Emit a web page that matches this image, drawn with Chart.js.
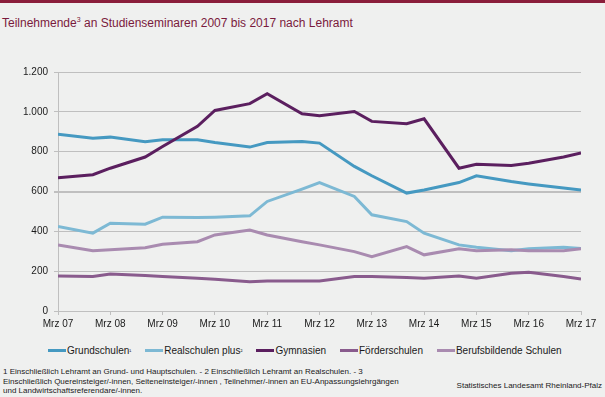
<!DOCTYPE html>
<html lang="de">
<head>
<meta charset="utf-8">
<script src="https://cdn.jsdelivr.net/npm/chart.js@4.4.1/dist/chart.umd.min.js"></script>
<style>
    html, body { margin: 0; padding: 0; }
    body {
        width: 605px; height: 397px; overflow: hidden; position: relative;
        background: #eff0ef;
        font-family: Arial, "Liberation Sans", sans-serif;
        color: #1a1a1a;
    }
    .topbar { position: absolute; left: 0; top: 0; width: 605px; height: 3px; background: #8a1e3b; }
    .title { position: absolute; left: 2px; top: 16px; font-size: 12px; color: #7a1a3c; white-space: nowrap; }
    .title sup { font-size: 7px; vertical-align: 5px; }
    #chartBox { position: absolute; left: 0; top: 40px; width: 605px; height: 300px; }
    .legend { position: absolute; left: 48px; top: 345px; display: flex; font-size: 10px; white-space: nowrap; }
    .legend .item { display: flex; align-items: center; margin-right: 14px; }
    .legend .swatch { display: inline-block; width: 18px; height: 3px; margin-right: 1px; }
    .legend sup { font-size: 6px; vertical-align: 4px; }
    .notes { position: absolute; left: 3px; top: 367px; font-size: 8px; line-height: 9.5px; white-space: nowrap; }
    .source { position: absolute; right: 3px; top: 381px; font-size: 8px; white-space: nowrap; }
</style>
</head>
<body>
<div class="topbar"></div>
<div class="title">Teilnehmende<sup>3</sup> an Studienseminaren 2007 bis 2017 nach Lehramt</div>
<div id="chartBox"><canvas id="teilnehmerChart" width="605" height="300"></canvas></div>
<div class="legend" id="legend"></div>
<div class="notes">
    1 Einschließlich Lehramt an Grund- und Hauptschulen. - 2 Einschließlich Lehramt an Realschulen. - 3<br>
    Einschließlich Quereinsteiger/-innen, Seiteneinsteiger/-innen , Teilnehmer/-innen an EU-Anpassungslehrgängen<br>
    und Landwirtschaftsreferendare/-innen.
</div>
<div class="source">Statistisches Landesamt Rheinland-Pfalz</div>

<script>
// Stichtage (März und November)
const stichtage = ['Mrz 07', 'Nov 07', 'Mrz 08', 'Nov 08', 'Mrz 09', 'Nov 09', 'Mrz 10', 'Nov 10',
    'Mrz 11', 'Nov 11', 'Mrz 12', 'Nov 12', 'Mrz 13', 'Nov 13', 'Mrz 14', 'Nov 14',
    'Mrz 15', 'Nov 15', 'Mrz 16', 'Nov 16', 'Mrz 17'];

const tickLabels = ['Mrz 07', 'Mrz 08', 'Mrz 09', 'Mrz 10', 'Mrz 11', 'Mrz 12',
    'Mrz 13', 'Mrz 14', 'Mrz 15', 'Mrz 16', 'Mrz 17'];

const grundschulen = [888, 868, 873, 850, 860, 860, 846, 823, 846, 851, 843,
    726, 679, 592, 608, 645, 679, 650, 638, 617, 608];
const realschulenPlus = [424, 391, 441, 436, 471, 469, 471, 478, 550, 612, 645,
    575, 483, 449, 391, 332, 320, 302, 312, 320, 314];
const gymnasien = [669, 684, 717, 773, 826, 927, 1007, 1041, 1091, 990, 980,
    1002, 952, 940, 965, 717, 737, 731, 742, 773, 793];
const foerderschulen = [176, 173, 186, 178, 173, 164, 159, 147, 151, 151, 151,
    173, 173, 168, 164, 176, 164, 189, 194, 173, 161];
const berufsbildende = [332, 302, 307, 318, 335, 348, 382, 407, 382, 348, 332,
    298, 273, 323, 282, 312, 302, 307, 302, 302, 312];

const monthIndex = { Mrz: 3, Nov: 11 };

// Monate seit März 2007
function toMonths(label) {
    const parts = label.split(' ');
    return (parseInt(parts[1], 10) - 7) * 12 + monthIndex[parts[0]] - 3;
}

function toPoints(values) {
    return values.map((v, i) => ({ x: toMonths(stichtage[i]), y: v }));
}

function formatDe(value) {
    return String(value).replace(/\B(?=(\d{3})+(?!\d))/g, '.');
}

const series = [
    { label: 'Grundschulen', sup: '¹', data: grundschulen, color: '#4599c1' },
    { label: 'Realschulen plus', sup: '²', data: realschulenPlus, color: '#7db9d4' },
    { label: 'Gymnasien', sup: '', data: gymnasien, color: '#5b1f5f' },
    { label: 'Förderschulen', sup: '', data: foerderschulen, color: '#895b8d' },
    { label: 'Berufsbildende Schulen', sup: '', data: berufsbildende, color: '#a98bb0' }
];

// Legend
const legendEl = document.getElementById('legend');
series.forEach(s => {
    const item = document.createElement('span');
    item.className = 'item';
    item.innerHTML = '<span class="swatch" style="background:' + s.color + '"></span>' +
        s.label + (s.sup ? '<sup>' + s.sup + '</sup>' : '');
    legendEl.appendChild(item);
});

const gridColor = '#bfbfbf';
const ctx = document.getElementById('teilnehmerChart').getContext('2d');
new Chart(ctx, {
    type: 'line',
    data: {
        datasets: series.map((s, i) => ({
            label: s.label,
            data: toPoints(s.data),
            borderColor: s.color,
            backgroundColor: s.color,
            borderWidth: 3,
            pointRadius: 0,
            tension: 0,
            order: -i
        }))
    },
    options: {
        responsive: false,
        animation: false,
        layout: {
            padding: { top: 32, right: 24, left: 0, bottom: 0 }
        },
        plugins: {
            legend: { display: false },
            tooltip: { enabled: false }
        },
        scales: {
            x: {
                type: 'linear',
                min: 0,
                max: 120,
                afterFit: scale => { scale.height = 29; },
                afterBuildTicks: scale => {
                    scale.ticks = tickLabels.map((t, i) => ({ value: i * 12 }));
                },
                ticks: {
                    autoSkip: false,
                    maxRotation: 0,
                    padding: 3,
                    color: '#1a1a1a',
                    font: { family: 'Arial, "Liberation Sans", sans-serif', size: 10 },
                    callback: value => tickLabels[Math.round(value / 12)]
                },
                grid: {
                    drawOnChartArea: false,
                    drawTicks: true,
                    tickLength: 4,
                    color: gridColor
                },
                border: { display: true, color: gridColor }
            },
            y: {
                min: 0,
                max: 1200,
                afterFit: scale => { scale.width = 58; },
                ticks: {
                    stepSize: 200,
                    padding: 6,
                    color: '#1a1a1a',
                    font: { family: 'Arial, "Liberation Sans", sans-serif', size: 10 },
                    callback: value => formatDe(value)
                },
                grid: {
                    color: gridColor,
                    lineWidth: c => (c.tick && c.tick.value === 600 ? 2 : 1),
                    tickLength: 4
                },
                border: { display: true, color: gridColor }
            }
        }
    }
});
</script>
</body>
</html>
